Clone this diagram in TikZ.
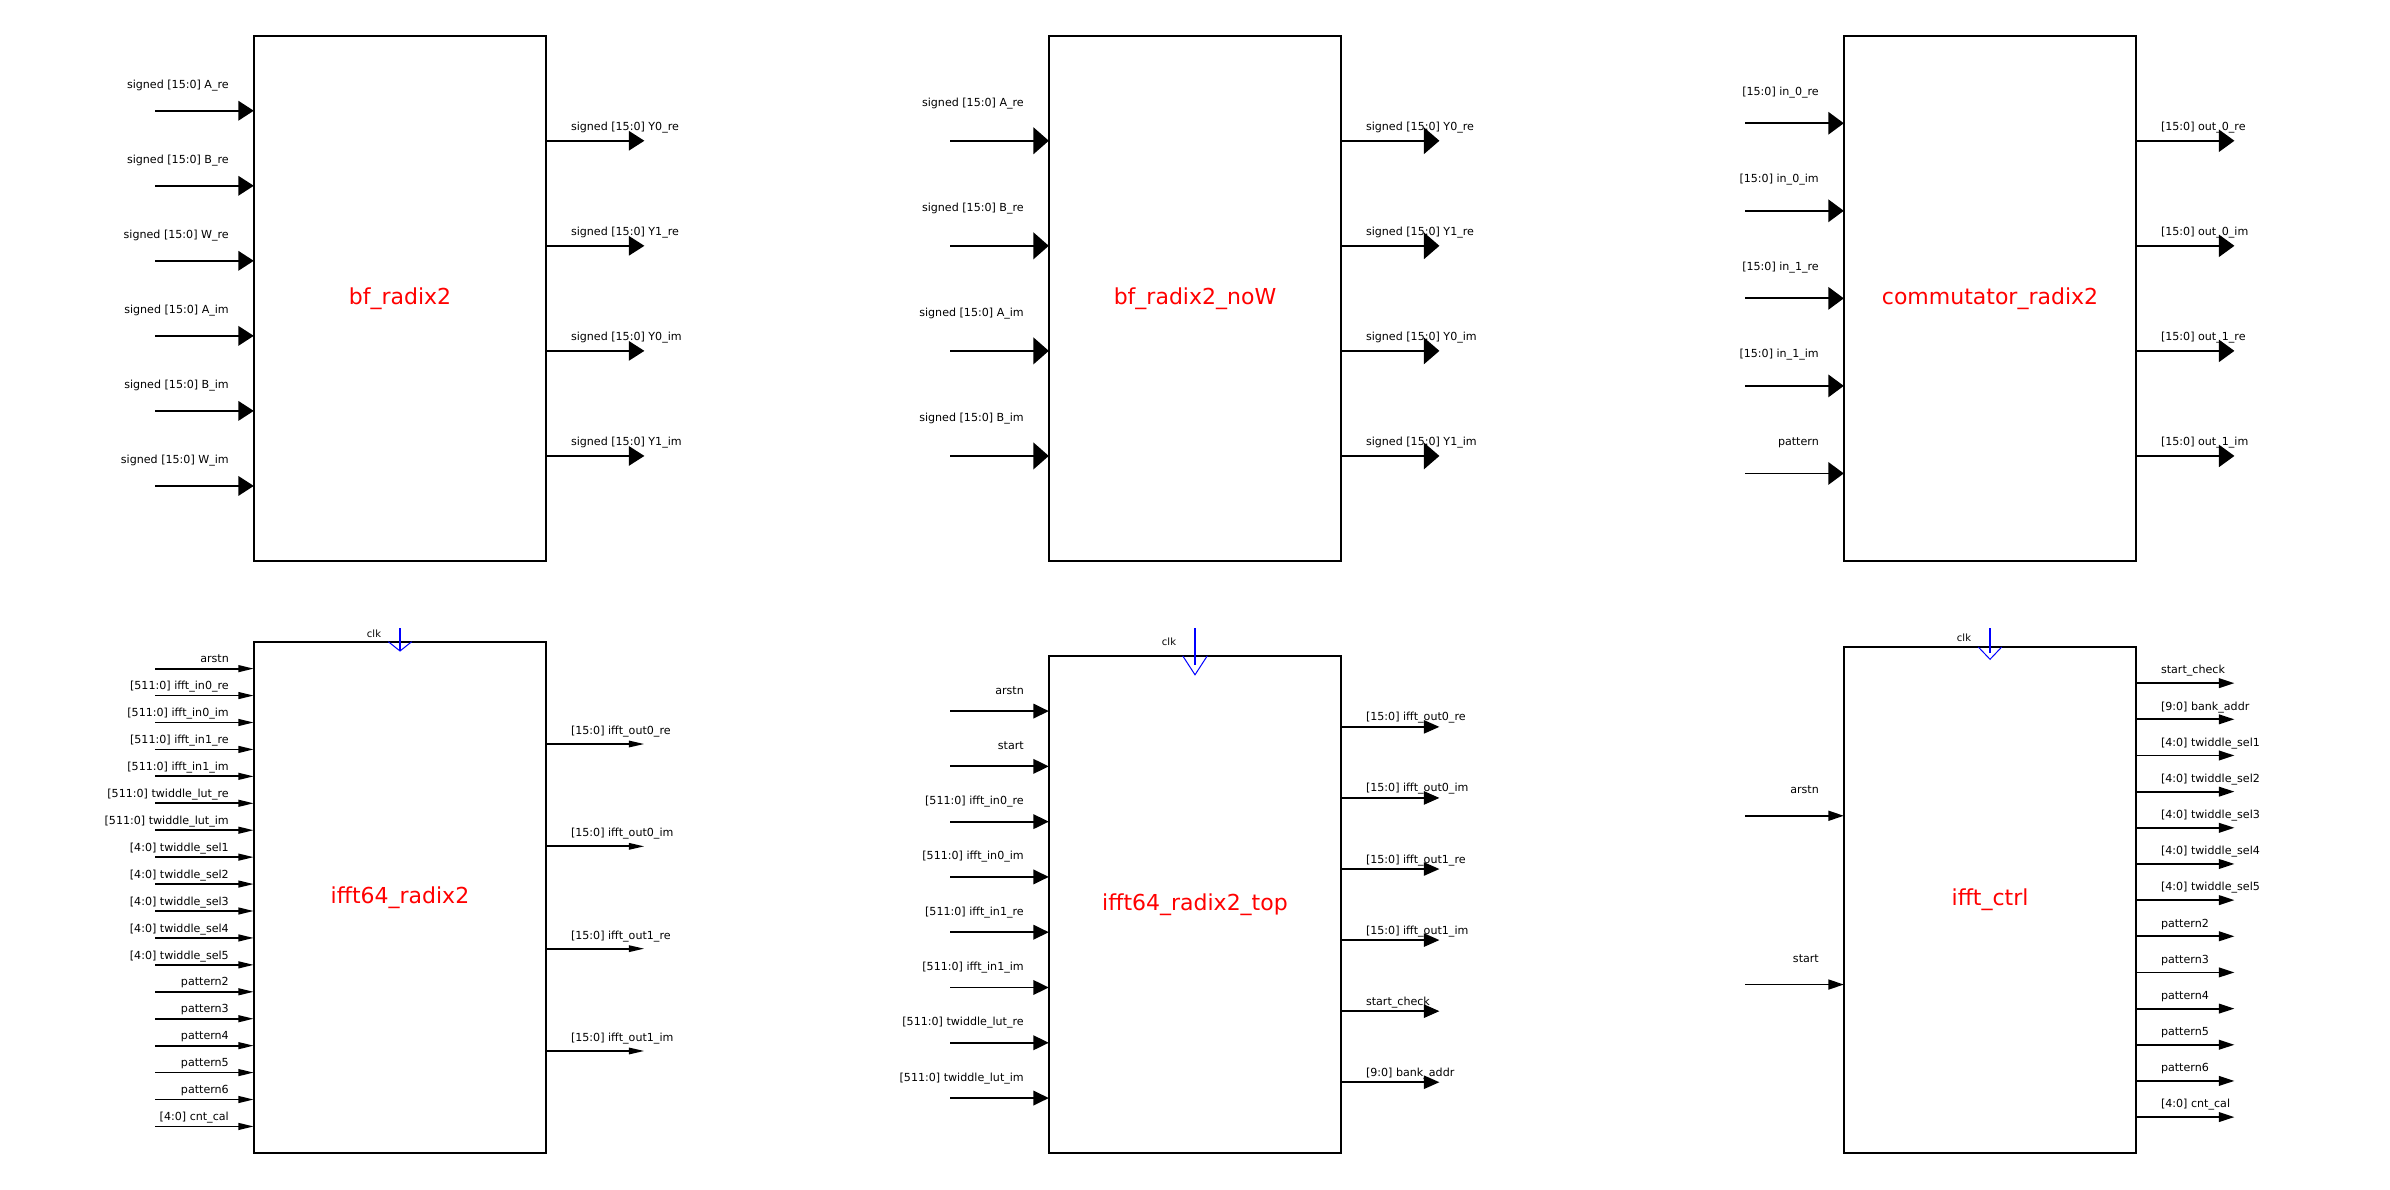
\documentclass[tikz,border=0pt]{standalone}
\usepackage{fontspec}
\setmainfont{DejaVu Sans}
\usetikzlibrary{arrows.meta}

\begin{document}
\begin{tikzpicture}[
    x=1pt,y=-1pt,
    font=\fontsize{11.1}{13}\selectfont,
    block/.style={draw,line width=2.3pt,minimum width=292.4pt,inner sep=0pt,outer sep=0pt,
        text=red,font=\fontsize{22}{26}\selectfont},
    pin/.style={line width=1.8pt,-{Triangle[length=15.5pt,width=#1]}},
    portname/.style={inner sep=0pt},
    clkname/.style={inner sep=0pt,anchor=base,font=\fontsize{10}{12}\selectfont},
    clkline/.style={blue,line width=1.8pt},
    clkmark/.style={blue,line width=1pt,line join=miter}
]
\useasboundingbox (0,0) rectangle (2390,1190);

% top row
\node[block,minimum height=525.3pt] (bf) at (400,298.35) {bf\_radix2};
\node[block,minimum height=525.3pt] (bfnow) at (1195,298.35) {bf\_radix2\_noW};
\node[block,minimum height=525.3pt] (comm) at (1990,298.35) {commutator\_radix2};

% bottom row
\node[block,minimum height=511.6pt] (ifft) at (400,897.5) {ifft64\_radix2};
\node[block,minimum height=497.5pt] (ifftop) at (1195,904.55) {ifft64\_radix2\_top};
\node[block,minimum height=506.3pt] (ctrl) at (1990,900.15) {ifft\_ctrl};

% bf_radix2
\foreach \lbl [count=\k] in {signed [15:0] A\_re,signed [15:0] B\_re,signed [15:0] W\_re,
    signed [15:0] A\_im,signed [15:0] B\_im,signed [15:0] W\_im}{
  \coordinate (bf-in\k) at ([yshift=-\k*75.04pt]bf.north west);
  \coordinate (bf-src\k) at ([xshift=-98.7pt]bf-in\k);
  \node[portname,anchor=base east] at ([xshift=-24.8pt,yshift=22.7pt]bf-in\k) {\lbl};
  \draw[pin=19.6pt] (bf-src\k) -- (bf-in\k);
}
\foreach \lbl [count=\k] in {signed [15:0] Y0\_re,signed [15:0] Y1\_re,signed [15:0] Y0\_im,signed [15:0] Y1\_im}{
  \coordinate (bf-out\k) at ([yshift=-\k*105.06pt]bf.north east);
  \coordinate (bf-dst\k) at ([xshift=98.2pt]bf-out\k);
  \node[portname,anchor=base west] at ([xshift=24.6pt,yshift=10.5pt]bf-out\k) {\lbl};
  \draw[pin=19.3pt] (bf-out\k) -- (bf-dst\k);
}

% bf_radix2_noW
\foreach \lbl [count=\k] in {signed [15:0] A\_re,signed [15:0] B\_re,signed [15:0] A\_im,signed [15:0] B\_im}{
  \coordinate (bfnow-in\k) at ([yshift=-\k*105.06pt]bfnow.north west);
  \coordinate (bfnow-src\k) at ([xshift=-98.7pt]bfnow-in\k);
  \node[portname,anchor=base east] at ([xshift=-24.8pt,yshift=34.2pt]bfnow-in\k) {\lbl};
  \draw[pin=26.8pt] (bfnow-src\k) -- (bfnow-in\k);
}
\foreach \lbl [count=\k] in {signed [15:0] Y0\_re,signed [15:0] Y1\_re,signed [15:0] Y0\_im,signed [15:0] Y1\_im}{
  \coordinate (bfnow-out\k) at ([yshift=-\k*105.06pt]bfnow.north east);
  \coordinate (bfnow-dst\k) at ([xshift=98.2pt]bfnow-out\k);
  \node[portname,anchor=base west] at ([xshift=24.6pt,yshift=10.5pt]bfnow-out\k) {\lbl};
  \draw[pin=26.4pt] (bfnow-out\k) -- (bfnow-dst\k);
}

% commutator_radix2
\foreach \lbl [count=\k] in {{[15:0] in\_0\_re},{[15:0] in\_0\_im},{[15:0] in\_1\_re},{[15:0] in\_1\_im},pattern}{
  \coordinate (comm-in\k) at ([yshift=-\k*87.55pt]comm.north west);
  \coordinate (comm-src\k) at ([xshift=-98.7pt]comm-in\k);
  \node[portname,anchor=base east] at ([xshift=-24.8pt,yshift=28.2pt]comm-in\k) {\lbl};
  \draw[pin=22.5pt] (comm-src\k) -- (comm-in\k);
}
\foreach \lbl [count=\k] in {{[15:0] out\_0\_re},{[15:0] out\_0\_im},{[15:0] out\_1\_re},{[15:0] out\_1\_im}}{
  \coordinate (comm-out\k) at ([yshift=-\k*105.06pt]comm.north east);
  \coordinate (comm-dst\k) at ([xshift=98.2pt]comm-out\k);
  \node[portname,anchor=base west] at ([xshift=24.6pt,yshift=10.5pt]comm-out\k) {\lbl};
  \draw[pin=22.1pt] (comm-out\k) -- (comm-dst\k);
}

% ifft64_radix2
\foreach \lbl [count=\k] in {arstn,{[511:0] ifft\_in0\_re},{[511:0] ifft\_in0\_im},{[511:0] ifft\_in1\_re},
    {[511:0] ifft\_in1\_im},{[511:0] twiddle\_lut\_re},{[511:0] twiddle\_lut\_im},
    {[4:0] twiddle\_sel1},{[4:0] twiddle\_sel2},{[4:0] twiddle\_sel3},{[4:0] twiddle\_sel4},{[4:0] twiddle\_sel5},
    pattern2,pattern3,pattern4,pattern5,pattern6,{[4:0] cnt\_cal}}{
  \coordinate (ifft-in\k) at ([yshift=-\k*26.93pt]ifft.north west);
  \coordinate (ifft-src\k) at ([xshift=-98.7pt]ifft-in\k);
  \node[portname,anchor=base east] at ([xshift=-24.8pt,yshift=5.8pt]ifft-in\k) {\lbl};
  \draw[pin=6.8pt] (ifft-src\k) -- (ifft-in\k);
}
\foreach \lbl [count=\k] in {{[15:0] ifft\_out0\_re},{[15:0] ifft\_out0\_im},{[15:0] ifft\_out1\_re},{[15:0] ifft\_out1\_im}}{
  \coordinate (ifft-out\k) at ([yshift=-\k*102.32pt]ifft.north east);
  \coordinate (ifft-dst\k) at ([xshift=98.2pt]ifft-out\k);
  \node[portname,anchor=base west] at ([xshift=24.6pt,yshift=9.5pt]ifft-out\k) {\lbl};
  \draw[pin=6.4pt] (ifft-out\k) -- (ifft-dst\k);
}
\coordinate (ifft-clk) at ([yshift=13.4pt]ifft.north);
\draw[clkline] (ifft-clk) -- ([yshift=-8.3pt]ifft.north);
\draw[clkmark] ([xshift=-11.7pt]ifft.north) -- ([yshift=-9.3pt]ifft.north) -- ([xshift=11.7pt]ifft.north);
\node[clkname] at ([xshift=-26pt,yshift=4pt]ifft.north) {clk};

% ifft64_radix2_top
\foreach \lbl [count=\k] in {arstn,start,{[511:0] ifft\_in0\_re},{[511:0] ifft\_in0\_im},{[511:0] ifft\_in1\_re},
    {[511:0] ifft\_in1\_im},{[511:0] twiddle\_lut\_re},{[511:0] twiddle\_lut\_im}}{
  \coordinate (ifftop-in\k) at ([yshift=-\k*55.28pt]ifftop.north west);
  \coordinate (ifftop-src\k) at ([xshift=-98.7pt]ifftop-in\k);
  \node[portname,anchor=base east] at ([xshift=-24.8pt,yshift=17pt]ifftop-in\k) {\lbl};
  \draw[pin=14.6pt] (ifftop-src\k) -- (ifftop-in\k);
}
\foreach \lbl [count=\k] in {{[15:0] ifft\_out0\_re},{[15:0] ifft\_out0\_im},{[15:0] ifft\_out1\_re},{[15:0] ifft\_out1\_im},
    start\_check,{[9:0] bank\_addr}}{
  \coordinate (ifftop-out\k) at ([yshift=-\k*71.07pt]ifftop.north east);
  \coordinate (ifftop-dst\k) at ([xshift=98.2pt]ifftop-out\k);
  \node[portname,anchor=base west] at ([xshift=24.6pt,yshift=6pt]ifftop-out\k) {\lbl};
  \draw[pin=13.2pt] (ifftop-out\k) -- (ifftop-dst\k);
}
\coordinate (ifftop-clk) at ([yshift=27.7pt]ifftop.north);
\draw[clkline] (ifftop-clk) -- ([yshift=-9pt]ifftop.north);
\draw[clkmark] ([xshift=-12.3pt]ifftop.north) -- ([yshift=-19pt]ifftop.north) -- ([xshift=12.3pt]ifftop.north);
\node[clkname] at ([xshift=-26pt,yshift=10.3pt]ifftop.north) {clk};

% ifft_ctrl
\foreach \lbl [count=\k] in {arstn,start}{
  \coordinate (ctrl-in\k) at ([yshift=-\k*168.77pt]ctrl.north west);
  \coordinate (ctrl-src\k) at ([xshift=-98.7pt]ctrl-in\k);
  \node[portname,anchor=base east] at ([xshift=-24.8pt,yshift=22.2pt]ctrl-in\k) {\lbl};
  \draw[pin=10pt] (ctrl-src\k) -- (ctrl-in\k);
}
\foreach \lbl [count=\k] in {start\_check,{[9:0] bank\_addr},{[4:0] twiddle\_sel1},{[4:0] twiddle\_sel2},
    {[4:0] twiddle\_sel3},{[4:0] twiddle\_sel4},{[4:0] twiddle\_sel5},
    pattern2,pattern3,pattern4,pattern5,pattern6,{[4:0] cnt\_cal}}{
  \coordinate (ctrl-out\k) at ([yshift=-\k*36.16pt]ctrl.north east);
  \coordinate (ctrl-dst\k) at ([xshift=98.2pt]ctrl-out\k);
  \node[portname,anchor=base west] at ([xshift=24.6pt,yshift=9.2pt]ctrl-out\k) {\lbl};
  \draw[pin=9.6pt] (ctrl-out\k) -- (ctrl-dst\k);
}
\coordinate (ctrl-clk) at ([yshift=18.7pt]ctrl.north);
\draw[clkline] (ctrl-clk) -- ([yshift=-6.3pt]ctrl.north);
\draw[clkmark] ([xshift=-11.7pt]ctrl.north) -- ([yshift=-12.3pt]ctrl.north) -- ([xshift=11.7pt]ctrl.north);
\node[clkname] at ([xshift=-26pt,yshift=6pt]ctrl.north) {clk};
\end{tikzpicture}
\end{document}
